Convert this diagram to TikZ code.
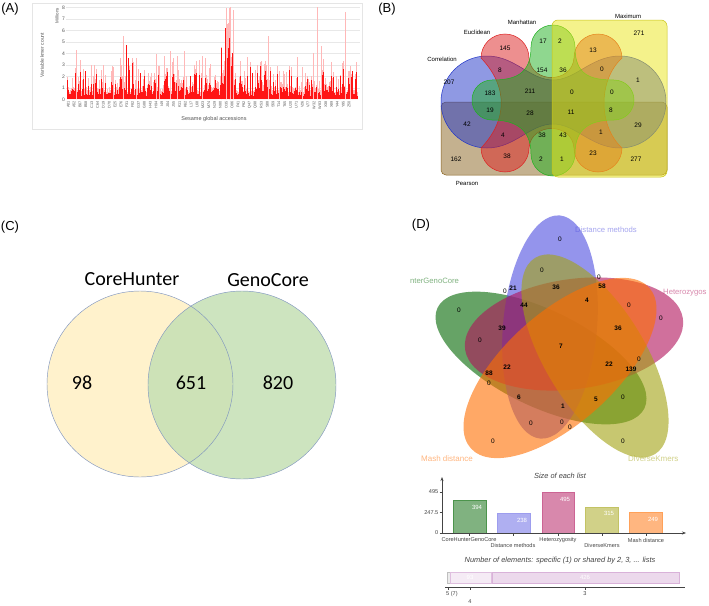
\documentclass[tikz,border=0pt]{standalone}
\usepackage{fontspec}
\setmainfont{Liberation Sans}
\newfontfamily\calibfont{Carlito}
\usetikzlibrary{arrows.meta}
\definecolor{pkA}{HTML}{FFB8B8}
\definecolor{rdA}{HTML}{FF1414}
\definecolor{gridA}{HTML}{E8E8E8}
\definecolor{txtA}{HTML}{555555}
\definecolor{bBrown}{HTML}{8A6420}
\definecolor{bYellow}{HTML}{EBE619}
\definecolor{bBlue}{HTML}{2035C8}
\definecolor{bRed}{HTML}{DD2020}
\definecolor{bGreen}{HTML}{20B020}
\definecolor{cYel}{HTML}{FFF2CC}
\definecolor{cGrn}{HTML}{C5E0B4}
\definecolor{cLine}{HTML}{8096C0}
\definecolor{dGreen}{HTML}{006600}
\definecolor{dBlue}{HTML}{4D4DE0}
\definecolor{dPink}{HTML}{B1115A}
\definecolor{dOlive}{HTML}{A3A311}
\definecolor{dOrange}{HTML}{FF6E00}
\definecolor{axD}{HTML}{444444}
\begin{document}
\begin{tikzpicture}[x=1pt,y=-1pt,
  panlbl/.style={font=\fontsize{13}{15}\selectfont, inner sep=0},
  tickA/.style={font=\fontsize{5}{6}\selectfont, text=txtA, inner sep=1pt},
  xlabA/.style={font=\fontsize{3.8}{4}\selectfont, text=txtA, inner sep=0},
  pinkbar/.style={pkA, line width=1pt},
  redbar/.style={rdA, line width=1pt},
  bset/.style={font=\fontsize{6}{7}\selectfont, inner sep=0},
  bnum/.style={font=\fontsize{6.5}{7}\selectfont, inner sep=0},
  bshape/.style={fill opacity=0.5, line width=0.5pt},
  cbig/.style={font=\calibfont\fontsize{20}{24}\selectfont, inner sep=0},
  dell/.style={fill opacity=0.6},
  dnum/.style={font=\fontsize{6.5}{7}\selectfont, inner sep=0},
  dbold/.style={font=\fontsize{6.5}{7}\selectfont\bfseries, inner sep=0},
  dset/.style={font=\fontsize{7.7}{9}\selectfont, inner sep=0, anchor=west, text opacity=0.5},
  dax/.style={font=\fontsize{5.6}{6.5}\selectfont, inner sep=0, text=axD},
  dtitle/.style={font=\fontsize{7.4}{9}\selectfont\itshape, inner sep=0, text=axD},
  dval/.style={font=\fontsize{6}{7}\selectfont, inner sep=0, text=white},
  barD/.style={line width=0.6pt}
]
\fill[white] (0,0) rectangle (709,605);
\useasboundingbox (0,0) rectangle (709,605);

% ================= Panel A =================
\node[panlbl] (lA) at (10,9) {(A)};
\draw[gray!20, line width=0.6pt] (32,3) rectangle (362,129);
\foreach \v in {1,...,8} \draw[gridA, line width=0.5pt] (66,{99.3-11.5*\v}) -- (360,{99.3-11.5*\v});
\foreach \v in {0,...,8} \node[tickA, anchor=east] (ay\v) at (66,{99.3-11.5*\v}) {\v};
\pgfmathsetseed{11}
\foreach \i in {0,...,290}{
  \pgfmathsetmacro\xx{67.5+\i}
  \pgfmathsetmacro\ra{rnd}
  \pgfmathsetmacro\rb{rnd}
  \pgfmathsetmacro\bump{max(0,1-abs(\xx-228)/10)}
  \pgfmathsetmacro\hl{min(7.95,0.6+2.0*\ra*\ra*\ra+1.2*\ra+6.4*\bump*\bump)}
  \pgfmathsetmacro\hd{\hl*(0.4+0.5*\rb)}
  \draw[pinkbar] (\xx,99.3) -- (\xx,{99.3-11.5*\hl});
  \draw[redbar] (\xx,99.3) -- (\xx,{99.3-11.5*\hd});
}
\foreach \sx/\sh in {76/4.3,123/5.5,170/4.2,184/4.2,268/5.5,317/8.0,321/4.6,345/7.6,94/3.0,136/3.6,156/3.9,202/3.8,313/4.0,177/3.8,103/3.0,230/8.0,226/7.9,233/7.8,159/2.9,113/2.8,279/2.2,302/2.8,350/2.8}
  \draw[pinkbar] (\sx,99.3) -- (\sx,{99.3-11.5*\sh});
\foreach \sx/\sh in {126/4.7,128/3.6,85/2.5,96/2.2,140/2.3,221/4.5,225/6.2,229/5.3,232/4.0,340/2.0,352/2.5,190/2.0,252/2.3,80/2.4}
  \draw[redbar] (\sx,99.3) -- (\sx,{99.3-11.5*\sh});
\foreach \lab [count=\k from 0] in {A01,A52,B07,B58,C13,C64,D19,D70,E25,E76,F31,F82,G37,G88,H43,H94,I49,J04,J55,K11,K62,L17,L68,M23,M74,N29,N80,O35,O86,P41,P92,Q47,Q98,R53,S08,S59,T14,T65,U20,U71,V26,V77,W32,W83,X38,X89,Y44,Y95,Z50}
  \node[xlabA, rotate=90, anchor=east] (ax\k) at ({68.3+5.85*\k},101) {\lab};
\node[tickA, rotate=90] (ylabA) at (42,55) {Variable kmer count};
\node[tickA, rotate=90, anchor=east, font=\fontsize{4.5}{5}\selectfont] (milA) at (57,7) {Millions};
\node[tickA, font=\fontsize{5.5}{6}\selectfont] (xlabA) at (214,119) {Sesame global accessions};

% ================= Panel B =================
\node[panlbl] (lB) at (387,9) {(B)};
\draw[bshape, fill=bBrown, draw=bBrown, rounded corners=5pt] (441,102) rectangle (667,175);
\draw[bshape, fill=bBlue, draw=bBlue] (487,56) arc[start angle=270, end angle=90, radius=46]
  .. controls (515,148) and (530,124) .. (553,124)
  .. controls (576,124) and (591,148) .. (620,148)
  arc[start angle=90, end angle=-90, radius=46]
  .. controls (591,56) and (576,80) .. (553,80)
  .. controls (530,80) and (515,56) .. (487,56) -- cycle;
\draw[bshape, fill=bRed, draw=bRed] (481,58) arc[start angle=180, end angle=360, radius=24]
  .. controls (531,84) and (572,84) .. (574,58)
  arc[start angle=180, end angle=360, radius=24]
  .. controls (598,80) and (598,126) .. (622,148)
  arc[start angle=0, end angle=180, radius=24]
  .. controls (572,122) and (531,122) .. (529,148)
  arc[start angle=0, end angle=180, radius=24]
  .. controls (508,120) and (508,86) .. (481,58) -- cycle;
\draw[bshape, fill=bGreen, draw=bGreen] (531,47) arc[start angle=180, end angle=360, radius=22]
  .. controls (575,75) and (590,80) .. (614,80)
  arc[start angle=270, end angle=450, radius=20]
  .. controls (590,120) and (575,128) .. (575,154)
  arc[start angle=0, end angle=180, radius=22]
  .. controls (531,128) and (514,120) .. (492,120)
  arc[start angle=90, end angle=270, radius=20]
  .. controls (514,80) and (531,75) .. (531,47) -- cycle;
\draw[bshape, fill=bYellow, draw=bYellow!85!black, rounded corners=6pt] (552,20) rectangle (667,177);
\node[bset] (bmax) at (628,16) {Maximum};
\node[bset] (bman) at (522,22) {Manhattan};
\node[bset] (beuc) at (477,32) {Euclidean};
\node[bset] (bcor) at (442,59) {Correlation};
\node[bset] (bpea) at (467,183) {Pearson};
\foreach \px/\py/\t [count=\k] in {639/33/271,543/41/17,560/41/2,505/48/145,593/50/13,500/70/8,542/70/154,563/70/36,602/69/0,638/80/1,449/82/207,490/93/183,530/91/211,572/92/0,612/92/0,490/110/19,530/113/28,571/112/11,611/110/8,467/124/42,638/125/29,503/135/4,542/135/38,563/135/43,601/132/1,456/159/162,507/156/38,541/159/2,562/159/1,593/153/23,636/159/277}
  \node[bnum] (bn\k) at (\px,\py) {\t};

% ================= Panel C =================
\node[panlbl] (lC) at (10,227) {(C)};
\fill[cYel] (140,384) circle[radius=93];
\fill[cGrn, fill opacity=0.85] (242,385) circle[radius=94];
\draw[cLine, line width=0.45pt] (140,384) circle[radius=93];
\draw[cLine, line width=0.45pt] (242,385) circle[radius=94];
\node[cbig] (cch) at (132,279) {CoreHunter};
\node[cbig] (cgc) at (268,280) {GenoCore};
\node[cbig] (c98) at (82,383) {98};
\node[cbig] (c651) at (191,383) {651};
\node[cbig] (c820) at (278,383) {820};

% ================= Panel D =================
\node[panlbl] (lD) at (421,225) {(D)};
\fill[dell, dGreen] (541,358) [rotate around={-26:(541,358)}] ellipse[x radius=115, y radius=48];
\fill[dell, dBlue] (550,327) [rotate around={85:(550,327)}] ellipse[x radius=112, y radius=47];
\fill[dell, dPink] (574,334) [rotate around={8:(574,334)}] ellipse[x radius=110, y radius=55];
\fill[dell, dOlive] (595,356) [rotate around={-58.6:(595,356)}] ellipse[x radius=115, y radius=50];
\fill[dell, dOrange] (560,368) [rotate around={42:(560,368)}] ellipse[x radius=120, y radius=55];
\node[dset, text=dGreen] (dgc) at (410,281) {nterGenoCore};
\node[dset, text=dBlue] (ddm) at (575,230) {Distance methods};
\node[dset, text=dPink] (dhz) at (663,293) {Heterozygos};
\node[dset, text=dOrange, font=\fontsize{8}{9}\selectfont] (dmd) at (421,459) {Mash distance};
\node[dset, text=dOlive, font=\fontsize{8}{9}\selectfont] (ddk) at (628,459) {DiverseKmers};
\foreach \px/\py [count=\k] in {560/239,542/270,599/277,505/291,459/310,629/305,661/318,480/340,639/359,489/383,623/397,531/423,562/422,570/427,493/441,623/441}
  \node[dnum] (dz\k) at (\px,\py) {0};
\foreach \px/\py/\t [count=\k] in {602/286/58,556/287/36,513/288/21,524/305/44,587/300/4,502/328/39,618/328/36,561/346/7,507/367/22,609/364/22,631/369/139,489/373/88,519/397/6,596/399/5,563/406/1}
  \node[dbold] (db\k) at (\px,\py) {\t};

% bar chart
\node[dtitle] (dt1) at (560,476) {Size of each list};
\draw[barD, fill=dGreen!50, draw=dGreen!70] (453,533) rectangle (486,500.4);
\draw[barD, fill=dBlue!45, draw=dBlue!55] (497,533) rectangle (530,513.3);
\draw[barD, fill=dPink!50, draw=dPink!65] (542,533) rectangle (574,492);
\draw[barD, fill=dOlive!50, draw=dOlive!65] (585,533) rectangle (618,507);
\draw[barD, fill=dOrange!50, draw=dOrange!65] (629,533) rectangle (662,512.4);
\node[dval] (v1) at (477,507) {394};
\node[dval] (v2) at (522,520) {238};
\node[dval] (v3) at (565,499) {495};
\node[dval] (v4) at (609,513) {315};
\node[dval] (v5) at (653,519) {249};
\coordinate (o) at (442,533);
\coordinate (ytop) at (442,477);
\coordinate (xend) at (686,533);
\draw[axD, line width=0.6pt, -{Stealth[length=4pt,width=3pt]}] (o) -- (ytop);
\draw[axD, line width=0.6pt, -{Stealth[length=4pt,width=3pt]}] (o) -- (xend);
\foreach \yy/\t [count=\k] in {492/495,512.6/247.5,533/0}{
  \draw[axD, line width=0.5pt] (439.5,\yy) -- (442,\yy);
  \node[dax, anchor=east] (yt\k) at (438.5,\yy) {\t};
}
\foreach \xx/\yy/\t [count=\k] in {469/540/CoreHunterGenoCore,513/545.5/Distance methods,558/540/Heterozygosity,602/545.5/DiverseKmers,646/540/Mash distance}{
  \draw[axD, line width=0.5pt] (\xx,533) -- (\xx,536);
  \node[dax] (xt\k) at (\xx,\yy) {\t};
}
\node[dtitle] (dt2) at (560,561) {Number of elements: specific (1) or shared by 2, 3, ... lists};
\draw[fill=gray!15, draw=gray!50, line width=0.5pt] (447,572) rectangle (450,583);
\draw[fill=violet!8, draw=violet!25, line width=0.5pt] (450.5,572) rectangle (491,583);
\draw[fill=violet!15, draw=violet!30, line width=0.5pt] (492,572) rectangle (679,583);
\node[dval, text=white] (s93) at (470,577.5) {93};
\node[dval, text=white] (s426) at (585,577.5) {426};
\coordinate (la) at (445,587);
\coordinate (lb) at (685,587);
\draw[axD, line width=0.6pt] (la) -- (lb);
\foreach \xx in {448,470,585} \draw[axD, line width=0.5pt] (\xx,587) -- (\xx,590);
\node[dax, anchor=west] (t57) at (446,594) {5 (7)};
\node[dax] (t4) at (470,601.5) {4};
\node[dax] (t3) at (585,594) {3};
\end{tikzpicture}
\end{document}
